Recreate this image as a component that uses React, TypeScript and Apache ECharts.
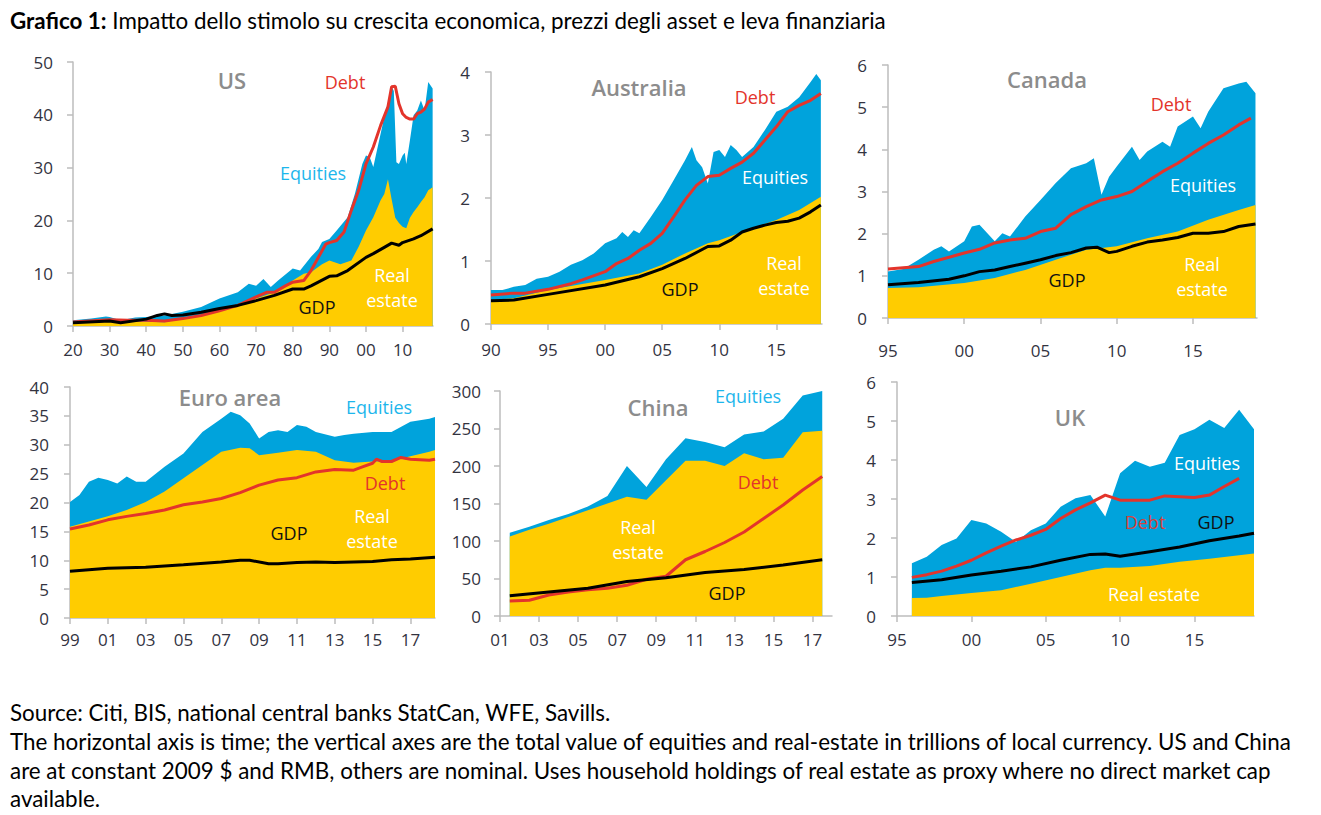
import React, { useEffect, useRef } from "react";
import * as echarts from "echarts";

type P = [number, number];

// ---------- US (trillions of 2009 $) ----------
const usTotal: P[] = [[1920,1.1],[1925,1.4],[1929,1.8],[1930,1.7],[1933,1.1],[1937,1.6],[1940,1.7],[1945,2.0],[1950,2.7],[1955,3.6],[1960,5.2],[1965,6.4],[1968,8.0],[1970,7.6],[1972,8.9],[1974,7.4],[1976,8.6],[1980,10.9],[1982,10.5],[1985,13.1],[1987,14.6],[1988,15.9],[1990,16.5],[1992,18.1],[1995,20.6],[1997,25.1],[1999,30.7],[2000,32.3],[2001,32.0],[2002,30.1],[2003,33.3],[2005,39.6],[2006,42.4],[2007,45.3],[2007.6,44.5],[2008.3,31.0],[2009,30.7],[2010,32.3],[2010.6,32.8],[2011,30.7],[2012,35.2],[2013,39.9],[2014,40.8],[2015,42.7],[2016,40.8],[2017,46.2],[2018.2,45.0]];
const usRealEstate: P[] = [[1920,0.75],[1930,0.9],[1940,0.8],[1945,0.7],[1950,1.4],[1955,2.0],[1960,3.0],[1965,3.9],[1970,5.2],[1975,6.4],[1980,8.6],[1983,9.9],[1985,10.2],[1988,11.7],[1990,12.4],[1993,11.7],[1996,12.4],[1998,15.0],[2000,18.1],[2002,20.6],[2004,23.8],[2005,25.0],[2006,27.8],[2007,24.0],[2008,20.5],[2009,19.5],[2010,18.8],[2011,18.5],[2012,20.5],[2013,21.6],[2014,22.5],[2015,23.5],[2016,24.4],[2017,25.7],[2018.2,26.3]];
const usDebt: P[] = [[1920,0.75],[1930,1.2],[1935,1.1],[1940,1.1],[1945,0.95],[1950,1.4],[1955,2.0],[1960,2.9],[1965,3.9],[1970,5.5],[1973,6.4],[1975,6.4],[1978,7.6],[1980,8.3],[1983,8.6],[1985,10.5],[1987,13.0],[1989,15.5],[1990,15.8],[1992,16.2],[1994,17.8],[1996,21.9],[1998,25.7],[2000,30.7],[2002,33.9],[2004,38.0],[2006,41.5],[2007,45.3],[2008,45.4],[2009,42.1],[2010,40.2],[2011,39.5],[2012,39.2],[2013,39.2],[2014,40.2],[2015,40.5],[2016,41.1],[2017,42.4],[2018.2,42.9]];
const usGdp: P[] = [[1920,0.6],[1930,0.95],[1933,0.6],[1940,1.3],[1943,2.0],[1945,2.3],[1947,2.0],[1950,2.1],[1955,2.6],[1960,3.3],[1965,3.9],[1970,4.8],[1975,5.8],[1980,7.0],[1983,7.0],[1985,7.6],[1990,9.4],[1992,9.5],[1995,10.5],[2000,13.0],[2002,13.7],[2005,14.9],[2007,15.7],[2009,15.3],[2010,15.8],[2013,16.5],[2015,17.1],[2018.2,18.4]];
const usXTicks = [1920,1930,1940,1950,1960,1970,1980,1990,2000,2010];

// ---------- Australia ----------
const auTotal: P[] = [[1990,0.54],[1991,0.54],[1992,0.59],[1993,0.62],[1994,0.72],[1995,0.75],[1996,0.83],[1997,0.94],[1998,1.01],[1999,1.12],[2000,1.28],[2001,1.36],[2001.5,1.46],[2002,1.38],[2002.5,1.49],[2003,1.44],[2004,1.7],[2005,1.97],[2006,2.28],[2007,2.6],[2007.6,2.81],[2008,2.6],[2008.5,2.49],[2009,2.23],[2009.5,2.73],[2010,2.76],[2010.5,2.65],[2011,2.84],[2011.5,2.76],[2012,2.65],[2013,2.81],[2014,3.08],[2015,3.37],[2016,3.45],[2017,3.6],[2018,3.84],[2018.5,3.97],[2018.9,3.87]];
const auRealEstate: P[] = [[1990,0.38],[1992,0.41],[1995,0.54],[2000,0.7],[2003,0.8],[2005,0.94],[2007,1.12],[2009,1.28],[2010,1.33],[2012,1.46],[2015,1.65],[2017,1.81],[2018.9,2.02]];
const auDebt: P[] = [[1990,0.46],[1992,0.49],[1993,0.49],[1995,0.55],[1997,0.64],[1998,0.7],[2000,0.83],[2001,0.96],[2002,1.04],[2003,1.17],[2004,1.28],[2005,1.44],[2006,1.7],[2007,1.97],[2008,2.2],[2009,2.34],[2010,2.36],[2011,2.47],[2012,2.57],[2013,2.71],[2014,2.92],[2015,3.13],[2016,3.37],[2017,3.47],[2018,3.55],[2018.9,3.66]];
const auGdp: P[] = [[1990,0.37],[1992,0.38],[1995,0.47],[2000,0.62],[2003,0.75],[2005,0.88],[2007,1.04],[2009,1.23],[2010,1.24],[2011,1.33],[2012,1.46],[2013,1.52],[2014,1.57],[2015,1.61],[2016,1.63],[2017,1.68],[2018,1.78],[2018.9,1.89]];
const auXTicks = [1990,1995,2000,2005,2010,2015];

// ---------- Canada ----------
const caTotal: P[] = [[1995,1.1],[1996,1.16],[1997,1.38],[1998,1.62],[1998.5,1.7],[1999,1.58],[2000,1.82],[2000.5,2.17],[2001,2.21],[2002,1.82],[2002.5,2.01],[2003,1.93],[2004,2.41],[2005,2.8],[2006,3.2],[2007,3.55],[2008,3.67],[2008.5,3.79],[2009,2.92],[2009.5,3.35],[2010,3.59],[2011,4.06],[2011.5,3.75],[2012,3.95],[2013,4.18],[2013.5,4.06],[2014,4.54],[2015,4.78],[2015.5,4.5],[2016,4.89],[2017,5.45],[2018,5.56],[2018.5,5.6],[2019.1,5.33]];
const caRealEstate: P[] = [[1995,0.71],[1997,0.73],[2000,0.83],[2002,0.95],[2004,1.14],[2006,1.38],[2008,1.62],[2010,1.7],[2012,1.89],[2014,2.05],[2016,2.33],[2018,2.56],[2019.1,2.68]];
const caDebt: P[] = [[1995,1.16],[1997,1.22],[1998,1.34],[2000,1.54],[2001,1.63],[2002,1.78],[2003,1.85],[2004,1.89],[2005,2.05],[2006,2.13],[2007,2.45],[2008,2.64],[2009,2.8],[2010,2.88],[2011,3.0],[2012,3.24],[2013,3.47],[2014,3.67],[2015,3.91],[2016,4.14],[2017,4.34],[2018,4.58],[2018.8,4.74]];
const caGdp: P[] = [[1995,0.79],[1997,0.84],[1999,0.92],[2000,1.0],[2001,1.1],[2002,1.14],[2003,1.22],[2004,1.3],[2005,1.38],[2006,1.48],[2007,1.55],[2008,1.66],[2008.7,1.68],[2009.5,1.55],[2010,1.58],[2011,1.7],[2012,1.8],[2013,1.85],[2014,1.91],[2015,2.01],[2016,2.01],[2017,2.05],[2018,2.17],[2019.1,2.23]];
const caXTicks = [1995,2000,2005,2010,2015];

// ---------- Euro area ----------
const euTotal: P[] = [[1999,20.1],[1999.5,21.3],[2000,23.6],[2000.5,24.3],[2001,23.9],[2001.5,23.3],[2002,24.5],[2002.5,23.6],[2003,23.6],[2004,26.2],[2005,28.5],[2006,32.2],[2007,34.5],[2007.5,35.7],[2008,35.1],[2008.5,33.7],[2009,31.1],[2009.5,32.2],[2010,32.5],[2010.5,32.2],[2011,33.4],[2011.5,33.1],[2012,32.2],[2013,31.4],[2013.5,31.7],[2014,31.9],[2015,32.2],[2016,32.2],[2017,34.0],[2018,34.5],[2018.3,34.8]];
const euRealEstate: P[] = [[1999,15.8],[2000,16.7],[2001,17.6],[2002,18.7],[2003,20.1],[2004,21.9],[2005,24.2],[2006,26.5],[2007,28.8],[2008,29.5],[2008.5,29.4],[2009,28.2],[2010,28.6],[2011,29.1],[2012,28.8],[2013,27.3],[2014,26.9],[2015,27.1],[2016,27.2],[2017,28.0],[2018,28.8],[2018.3,29.1]];
const euDebt: P[] = [[1999,15.4],[2000,16.1],[2001,17.0],[2002,17.6],[2003,18.1],[2004,18.7],[2005,19.6],[2006,20.1],[2007,20.7],[2008,21.7],[2009,23.0],[2010,23.9],[2011,24.3],[2012,25.3],[2013,25.7],[2014,25.6],[2014.5,26.2],[2015,26.8],[2015.2,27.5],[2015.5,27.1],[2016,27.1],[2016.5,27.8],[2017,27.5],[2018,27.3],[2018.3,27.5]];
const euGdp: P[] = [[1999,8.1],[2000,8.35],[2001,8.6],[2003,8.8],[2005,9.2],[2007,9.7],[2008,10.0],[2008.5,10.0],[2009.5,9.4],[2010,9.4],[2011,9.6],[2012,9.7],[2013,9.6],[2014,9.7],[2015,9.8],[2016,10.1],[2017,10.2],[2018.3,10.5]];
const euXTicks = [1999,2001,2003,2005,2007,2009,2011,2013,2015,2017];

// ---------- China (trillions of 2009 RMB) ----------
const cnTotal: P[] = [[2001.5,111],[2002.5,119],[2003.5,128],[2004.5,136],[2005.5,146],[2006.5,160],[2007.5,200],[2008.5,172],[2009.5,209],[2010.5,237],[2011.5,232],[2012.5,225],[2013.5,242],[2014.5,246],[2015.5,263],[2016.5,294],[2017.5,300]];
const cnRealEstate: P[] = [[2001.5,106],[2002.5,115],[2003.5,123],[2004.5,132],[2005.5,141],[2006.5,150],[2007.5,159],[2008.5,155],[2009.5,181],[2010.5,207],[2011.5,207],[2012.5,200],[2013.5,217],[2014.5,209],[2015.5,211],[2016.5,245],[2017.5,247]];
const cnDebt: P[] = [[2001.5,20],[2002.5,21],[2003.5,28],[2004.5,32],[2005.5,35],[2006.5,37],[2007.5,41],[2008.5,49],[2009.5,53],[2010.5,75],[2011.5,86],[2012.5,98],[2013.5,112],[2014.5,130],[2015.5,148],[2016.5,168],[2017.5,186]];
const cnGdp: P[] = [[2001.5,27],[2003.5,32],[2005.5,37],[2007.5,46],[2009.5,51],[2011.5,58],[2013.5,62],[2015.5,68],[2017.5,75]];
const cnXTicks = [2001,2003,2005,2007,2009,2011,2013,2015,2017];

// ---------- UK ----------
const ukTotal: P[] = [[1996,1.35],[1997,1.52],[1998,1.82],[1999,1.99],[2000,2.46],[2001,2.37],[2002,2.16],[2003,1.9],[2004,2.2],[2005,2.37],[2006,2.8],[2007,3.02],[2008,3.1],[2009,2.55],[2010,3.66],[2011,3.98],[2012,3.83],[2013,3.93],[2014,4.64],[2015,4.79],[2016,5.03],[2017,4.82],[2018,5.29],[2019,4.79]];
const ukRealEstate: P[] = [[1996,0.46],[1997,0.47],[1998,0.51],[2000,0.59],[2002,0.66],[2004,0.83],[2006,1.0],[2008,1.17],[2009,1.24],[2010,1.24],[2012,1.28],[2014,1.39],[2016,1.47],[2018,1.56],[2019,1.6]];
const ukDebt: P[] = [[1996,0.99],[1997,1.06],[1998,1.15],[1999,1.28],[2000,1.43],[2001,1.62],[2002,1.79],[2003,1.95],[2004,2.07],[2005,2.22],[2006,2.5],[2007,2.72],[2008,2.9],[2009,3.1],[2010,2.97],[2011,2.97],[2012,2.97],[2013,3.08],[2014,3.06],[2015,3.04],[2016,3.1],[2017,3.32],[2018,3.53]];
const ukGdp: P[] = [[1996,0.86],[1998,0.93],[2000,1.05],[2002,1.15],[2004,1.26],[2006,1.43],[2008,1.58],[2009,1.59],[2010,1.53],[2012,1.65],[2014,1.77],[2016,1.93],[2018,2.05],[2019,2.12]];
const ukXTicks = [1995,2000,2005,2010,2015];

const TITLE_BOLD = "Grafico 1:";
const TITLE_REST = " Impatto dello stimolo su crescita economica, prezzi degli asset e leva finanziaria";
const FOOTER_LINES = [
  "Source: Citi, BIS, national central banks StatCan, WFE, Savills.",
  "The horizontal axis is time; the vertical axes are the total value of equities and real-estate in trillions of local currency. US and China",
  "are at constant 2009 $ and RMB, others are nominal. Uses household holdings of real estate as proxy where no direct market cap",
  "available.",
];

const YELLOW = "#FFCC00";
const BLUE = "#00A3DC";
const CYAN = "#1DB6EC";
const RED = "#E3342B";
const GRAY_TITLE = "#8C8C8C";
const AXIS = "#BDBDBD";
const TICK_TXT = "#33333F";
const LABEL_FONT = "'Open Sans', 'Noto Sans', sans-serif";
const TEXT_FONT = "Lato, 'Open Sans', sans-serif";
const TEXT_SIZE = 22.4;

interface Panel {
  name: string;
  grid: { left: number; top: number; width: number; height: number };
  xMin: number; xMax: number; xTicks: number[];
  yMax: number; yInterval: number;
  xLabelMargin: number; yLabelMargin: number;
  total: P[]; re: P[]; debt: P[]; gdp: P[];
  labels: { text: string; x: number; y: number; color: string; size?: number; weight?: string | number }[];
}

const panels: Panel[] = [
  {
    name: "US", grid: { left: 73, top: 62, width: 360, height: 264 },
    xMin: 1920, xMax: 2018.3, xTicks: usXTicks, yMax: 50, yInterval: 10, xLabelMargin: 15, yLabelMargin: 20,
    total: usTotal, re: usRealEstate, debt: usDebt, gdp: usGdp,
    labels: [
      { text: "US", x: 232, y: 80, color: GRAY_TITLE, size: 22, weight: 600 },
      { text: "Debt", x: 345, y: 82, color: RED },
      { text: "Equities", x: 313, y: 173, color: CYAN },
      { text: "GDP", x: 317, y: 307, color: "#111" },
      { text: "Real\nestate", x: 392, y: 287, color: "#fff" },
    ],
  },
  {
    name: "Australia", grid: { left: 491, top: 72, width: 331, height: 252 },
    xMin: 1990, xMax: 2019, xTicks: auXTicks, yMax: 4, yInterval: 1, xLabelMargin: 17, yLabelMargin: 21,
    total: auTotal, re: auRealEstate, debt: auDebt, gdp: auGdp,
    labels: [
      { text: "Australia", x: 639, y: 87, color: GRAY_TITLE, size: 22, weight: 600 },
      { text: "Debt", x: 755, y: 97, color: RED },
      { text: "Equities", x: 775, y: 177, color: "#fff" },
      { text: "GDP", x: 680, y: 289, color: "#111" },
      { text: "Real\nestate", x: 784, y: 275, color: "#fff" },
    ],
  },
  {
    name: "Canada", grid: { left: 888, top: 65, width: 369, height: 253 },
    xMin: 1995, xMax: 2019.2, xTicks: caXTicks, yMax: 6, yInterval: 1, xLabelMargin: 24, yLabelMargin: 21,
    total: caTotal, re: caRealEstate, debt: caDebt, gdp: caGdp,
    labels: [
      { text: "Canada", x: 1047, y: 79, color: GRAY_TITLE, size: 22, weight: 600 },
      { text: "Debt", x: 1171, y: 104, color: RED },
      { text: "Equities", x: 1203, y: 185, color: "#fff" },
      { text: "GDP", x: 1067, y: 280, color: "#111" },
      { text: "Real\nestate", x: 1202, y: 276, color: "#fff" },
    ],
  },
  {
    name: "Euro area", grid: { left: 70, top: 387, width: 365, height: 231 },
    xMin: 1999, xMax: 2018.3, xTicks: euXTicks, yMax: 40, yInterval: 5, xLabelMargin: 13, yLabelMargin: 21,
    total: euTotal, re: euRealEstate, debt: euDebt, gdp: euGdp,
    labels: [
      { text: "Euro area", x: 230, y: 397, color: GRAY_TITLE, size: 22, weight: 600 },
      { text: "Equities", x: 379, y: 407, color: CYAN },
      { text: "Debt", x: 385, y: 483, color: RED },
      { text: "GDP", x: 289, y: 533, color: "#111" },
      { text: "Real\nestate", x: 372, y: 528, color: "#fff" },
    ],
  },
  {
    name: "China", grid: { left: 500, top: 391, width: 332, height: 225 },
    xMin: 2001, xMax: 2018, xTicks: cnXTicks, yMax: 300, yInterval: 50, xLabelMargin: 15, yLabelMargin: 19,
    total: cnTotal, re: cnRealEstate, debt: cnDebt, gdp: cnGdp,
    labels: [
      { text: "China", x: 658, y: 407, color: GRAY_TITLE, size: 22, weight: 600 },
      { text: "Equities", x: 748, y: 396, color: CYAN },
      { text: "Debt", x: 758, y: 482, color: RED },
      { text: "Real\nestate", x: 638, y: 539, color: "#fff" },
      { text: "GDP", x: 727, y: 593, color: "#111" },
    ],
  },
  {
    name: "UK", grid: { left: 897, top: 382, width: 357, height: 234 },
    xMin: 1995, xMax: 2019, xTicks: ukXTicks, yMax: 6, yInterval: 1, xLabelMargin: 15, yLabelMargin: 21,
    total: ukTotal, re: ukRealEstate, debt: ukDebt, gdp: ukGdp,
    labels: [
      { text: "UK", x: 1070, y: 417, color: GRAY_TITLE, size: 22, weight: 600 },
      { text: "Equities", x: 1207, y: 463, color: "#fff" },
      { text: "Debt", x: 1145, y: 522, color: "#D9403A" },
      { text: "GDP", x: 1216, y: 522, color: "#111" },
      { text: "Real estate", x: 1154, y: 594, color: "#fff" },
    ],
  },
];

function buildOption(): echarts.EChartsCoreOption {
  const grids: any[] = [];
  const xAxes: any[] = [];
  const yAxes: any[] = [];
  const series: any[] = [];
  const graphics: any[] = [];

  panels.forEach((p, i) => {
    grids.push({ ...p.grid, containLabel: false });
    xAxes.push({
      type: "value", gridIndex: i, min: p.xMin, max: p.xMax,
      axisLine: { show: true, lineStyle: { color: AXIS, width: 1.5 } },
      axisTick: { show: true, length: 6, lineStyle: { color: AXIS, width: 1.5 }, customValues: p.xTicks },
      axisLabel: {
        customValues: p.xTicks, margin: p.xLabelMargin, color: TICK_TXT, fontSize: 17, fontFamily: LABEL_FONT,
        formatter: (v: number) => String(Math.round(v) % 100).padStart(2, "0"),
      },
      splitLine: { show: false },
    });
    yAxes.push({
      type: "value", gridIndex: i, min: 0, max: p.yMax, interval: p.yInterval,
      axisLine: { show: true, lineStyle: { color: AXIS, width: 1.5 } },
      axisTick: { show: true, length: 6, lineStyle: { color: AXIS, width: 1.5 } },
      axisLabel: { margin: p.yLabelMargin, color: TICK_TXT, fontSize: 17, fontFamily: LABEL_FONT },
      splitLine: { show: false },
    });
    const common = { xAxisIndex: i, yAxisIndex: i, showSymbol: false, symbol: "none", silent: true };
    series.push({
      ...common, type: "line", name: p.name + " Equities", data: p.total,
      lineStyle: { width: 0 }, areaStyle: { color: BLUE, opacity: 1 }, z: 1,
    });
    series.push({
      ...common, type: "line", name: p.name + " Real estate", data: p.re,
      lineStyle: { width: 0 }, areaStyle: { color: YELLOW, opacity: 1 }, z: 2,
    });
    series.push({
      ...common, type: "line", name: p.name + " Debt", data: p.debt,
      lineStyle: { width: 3, color: RED }, z: 3,
    });
    series.push({
      ...common, type: "line", name: p.name + " GDP", data: p.gdp,
      lineStyle: { width: 3, color: "#000" }, z: 4,
    });
    p.labels.forEach((l) => {
      graphics.push({
        type: "text", x: l.x, y: l.y, z: 10,
        style: {
          text: l.text, fill: l.color, fontSize: l.size ?? 18, fontWeight: l.weight ?? 500,
          fontFamily: LABEL_FONT, align: "center", verticalAlign: "middle", lineHeight: 25,
        },
      });
    });
  });

  graphics.push({
    type: "text", x: 10, y: 20, z: 10,
    style: {
      text: "{b|" + TITLE_BOLD + "}{n|" + TITLE_REST + "}",
      fill: "#000", fontSize: TEXT_SIZE, fontFamily: TEXT_FONT, verticalAlign: "middle",
      rich: {
        b: { fontWeight: "bold", fontSize: TEXT_SIZE, fontFamily: TEXT_FONT, fill: "#000" },
        n: { fontWeight: "normal", fontSize: TEXT_SIZE, fontFamily: TEXT_FONT, fill: "#000" },
      },
    },
  });
  const footY = [712, 741, 770, 798];
  FOOTER_LINES.forEach((line, k) => {
    graphics.push({
      type: "text", x: 10, y: footY[k], z: 10,
      style: { text: line, fill: "#000", fontSize: TEXT_SIZE, fontFamily: TEXT_FONT, verticalAlign: "middle" },
    });
  });

  return {
    animation: false,
    backgroundColor: "#fff",
    grid: grids,
    xAxis: xAxes,
    yAxis: yAxes,
    series,
    graphic: graphics,
  };
}

export default function App() {
  const ref = useRef<HTMLDivElement>(null);
  useEffect(() => {
    if (!ref.current) return;
    const chart = echarts.init(ref.current, undefined, { renderer: "svg" });
    chart.setOption(buildOption());
    return () => chart.dispose();
  }, []);
  return (
    <div
      ref={ref}
      style={{ position: "absolute", left: 0, top: 0, width: 1321, height: 815, background: "#fff" }}
    />
  );
}
